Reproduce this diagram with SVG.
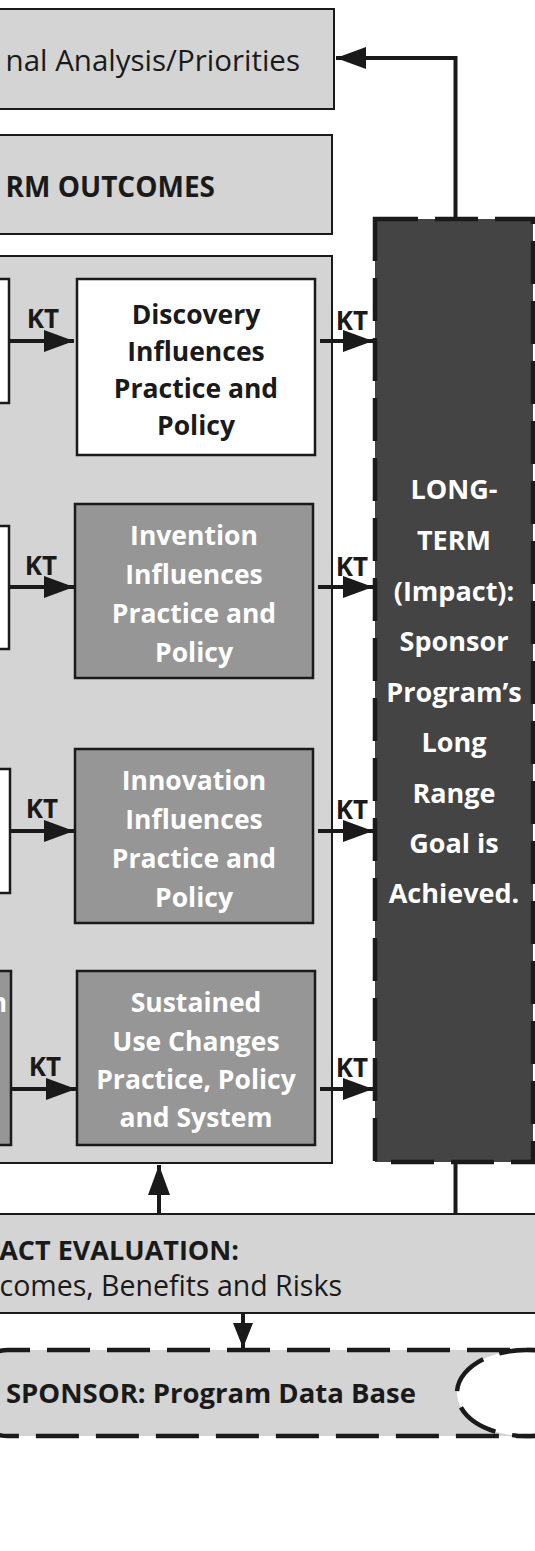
<svg xmlns="http://www.w3.org/2000/svg" width="535" height="1551" viewBox="0 0 535 1551">
<style>
.lt{fill:#d4d4d4;stroke:#1a1a1a;stroke-width:2}
.wb{fill:#ffffff;stroke:#1a1a1a;stroke-width:2.5}
.gb{fill:#969696;stroke:#1a1a1a;stroke-width:2.5}
.dk{fill:#444444;stroke:#1a1a1a;stroke-width:4.5;stroke-dasharray:43 17}
.t{font-family:"Open Sans",Lato,"Liberation Sans",sans-serif;fill:#1a1a1a}
.b{font-weight:bold}
.w{fill:#ffffff}
.mid{text-anchor:middle}
.ln{fill:none;stroke:#1a1a1a;stroke-width:4}
.ah{fill:#1a1a1a}
</style>
<defs>
<marker id="arr" markerUnits="userSpaceOnUse" markerWidth="30" markerHeight="22" refX="30" refY="11" orient="auto" viewBox="0 0 30 22">
<path d="M0,0 L30,11 L0,22 z" class="ah"/>
</marker>
<marker id="arrs" markerUnits="userSpaceOnUse" markerWidth="25" markerHeight="20" refX="25" refY="10" orient="auto" viewBox="0 0 25 20">
<path d="M0,0 L25,10 L0,20 z" class="ah"/>
</marker>
</defs>
<rect width="535" height="1551" fill="#ffffff"/>

<g id="analysis">
<rect class="lt" x="-20" y="9" width="354" height="100"/>
<text class="t" x="300" y="71" font-size="29.5" text-anchor="end">nal Analysis/Priorities</text>
</g>

<g id="outcomes">
<rect class="lt" x="-20" y="135" width="352" height="99"/>
<text class="t b" x="215" y="197" font-size="28" text-anchor="end">RM OUTCOMES</text>
</g>

<g id="container">
<rect class="lt" x="-20" y="256" width="352" height="907"/>
</g>

<g id="left1"><rect class="wb" x="-20" y="279" width="29" height="124"/></g>
<g id="left2"><rect class="wb" x="-20" y="526" width="29" height="123"/></g>
<g id="left3"><rect class="wb" x="-20" y="769" width="30" height="124"/></g>
<g id="left4"><rect class="gb" x="-20" y="971" width="31" height="174"/>
<text class="t b w" x="7" y="1012" font-size="26" text-anchor="end">n</text></g>

<g id="discovery">
<rect class="wb" x="77" y="279" width="238" height="176"/>
<text class="t b mid" font-size="26.5"><tspan x="196" y="324">Discovery</tspan><tspan x="196" y="361">Influences</tspan><tspan x="196" y="398">Practice and</tspan><tspan x="196" y="435">Policy</tspan></text>
</g>

<g id="invention">
<rect class="gb" x="75" y="504" width="238" height="174"/>
<text class="t b w mid" font-size="26.5"><tspan x="194" y="545">Invention</tspan><tspan x="194" y="584">Influences</tspan><tspan x="194" y="623">Practice and</tspan><tspan x="194" y="662">Policy</tspan></text>
</g>

<g id="innovation">
<rect class="gb" x="75" y="749" width="238" height="174"/>
<text class="t b w mid" font-size="26.5"><tspan x="194" y="790">Innovation</tspan><tspan x="194" y="829">Influences</tspan><tspan x="194" y="868">Practice and</tspan><tspan x="194" y="907">Policy</tspan></text>
</g>

<g id="sustained">
<rect class="gb" x="77" y="971" width="238" height="174"/>
<text class="t b w mid" font-size="26.5"><tspan x="196" y="1012">Sustained</tspan><tspan x="196" y="1051">Use Changes</tspan><tspan x="196" y="1089">Practice, Policy</tspan><tspan x="196" y="1127">and System</tspan></text>
</g>

<g id="longterm">
<rect class="dk" x="375" y="219" width="158" height="943"/>
<text class="t b w mid" font-size="27"><tspan x="454" y="499">LONG-</tspan><tspan x="454" y="550">TERM</tspan><tspan x="454" y="601">(Impact):</tspan><tspan x="454" y="651">Sponsor</tspan><tspan x="454" y="702">Program’s</tspan><tspan x="454" y="752">Long</tspan><tspan x="454" y="803">Range</tspan><tspan x="454" y="853">Goal is</tspan><tspan x="454" y="903">Achieved.</tspan></text>
</g>

<g id="evaluation">
<rect class="lt" x="-20" y="1214" width="575" height="99"/>
<text class="t b" x="239" y="1260" font-size="27" text-anchor="end">ACT EVALUATION:</text>
<text class="t" x="342" y="1296" font-size="28.5" text-anchor="end">comes, Benefits and Risks</text>
</g>

<g id="database">
<path d="M560,1350 H8 A40,43 0 0 0 8,1436 H560" fill="#d4d4d4" stroke="#1a1a1a" stroke-width="4.5" stroke-dasharray="43 17" stroke-dashoffset="10"/>
<ellipse cx="526" cy="1393" rx="69" ry="43" fill="#ffffff" stroke="#1a1a1a" stroke-width="4.5" stroke-dasharray="43 17"/>
<text class="t b" x="416" y="1403" font-size="27.5" text-anchor="end">SPONSOR: Program Data Base</text>
</g>

<g id="connectors">
<path class="ln" d="M455.5,217 V58 H336" marker-end="url(#arr)"/>
<path class="ln" d="M9,341 H74" marker-end="url(#arr)"/>
<path class="ln" d="M9,587 H74" marker-end="url(#arr)"/>
<path class="ln" d="M10,831 H74" marker-end="url(#arr)"/>
<path class="ln" d="M11,1089 H76" marker-end="url(#arr)"/>
<path class="ln" d="M320,341 H373" marker-end="url(#arr)"/>
<path class="ln" d="M318,587 H373" marker-end="url(#arr)"/>
<path class="ln" d="M318,831 H373" marker-end="url(#arr)"/>
<path class="ln" d="M320,1089 H373" marker-end="url(#arr)"/>
<path class="ln" d="M159,1214 V1165" marker-end="url(#arr)"/>
<path class="ln" d="M455.5,1163 V1214"/>
<path class="ln" d="M243,1313 V1348" marker-end="url(#arrs)"/>
<text class="t b" x="43" y="328" font-size="26" text-anchor="middle">KT</text>
<text class="t b" x="41" y="575" font-size="26" text-anchor="middle">KT</text>
<text class="t b" x="42" y="818" font-size="26" text-anchor="middle">KT</text>
<text class="t b" x="45" y="1076" font-size="26" text-anchor="middle">KT</text>
<text class="t b" x="352" y="330" font-size="26" text-anchor="middle">KT</text>
<text class="t b" x="352" y="576" font-size="26" text-anchor="middle">KT</text>
<text class="t b" x="352" y="819" font-size="26" text-anchor="middle">KT</text>
<text class="t b" x="352" y="1077" font-size="26" text-anchor="middle">KT</text>
</g>
</svg>
